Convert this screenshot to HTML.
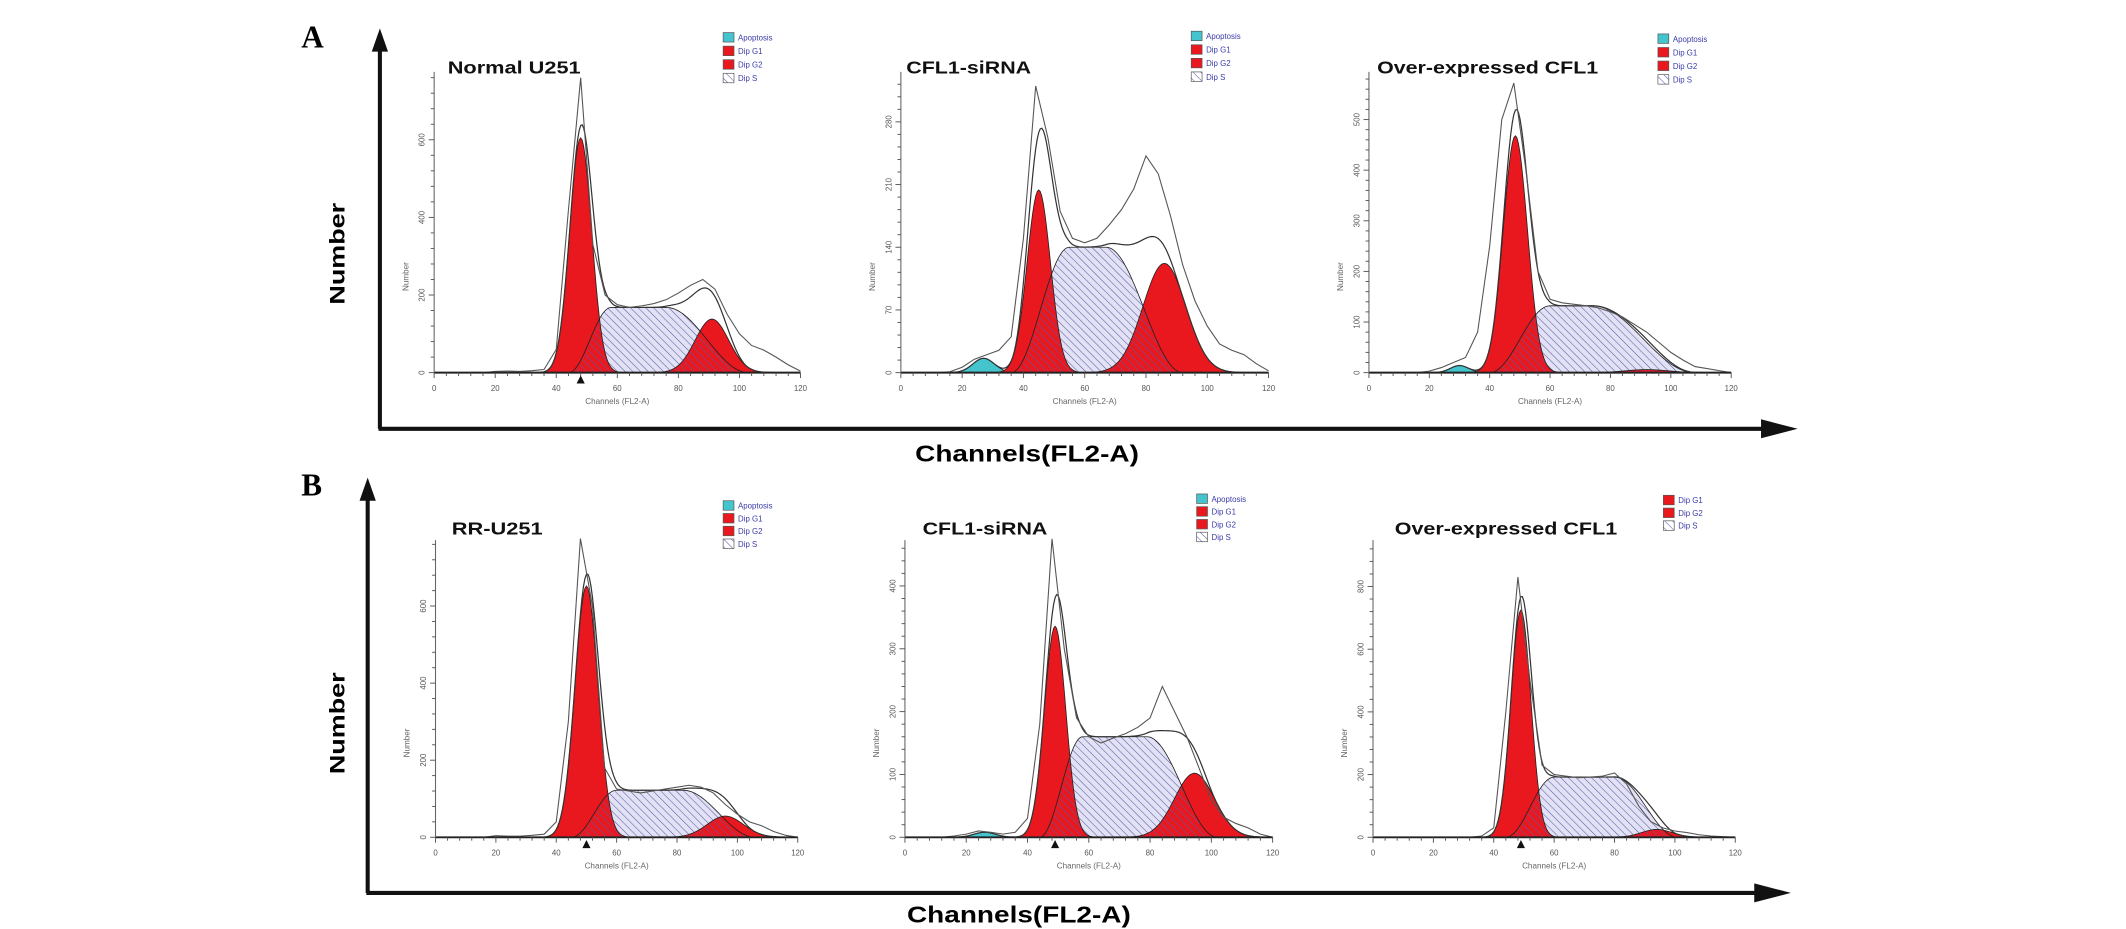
<!DOCTYPE html>
<html><head><meta charset="utf-8"><style>
html,body{margin:0;padding:0;background:#fff;}
svg{display:block;}
</style></head><body>
<svg id="fig" xmlns="http://www.w3.org/2000/svg" width="2126" height="929" viewBox="0 0 1567 684.6" preserveAspectRatio="none" font-family="Liberation Sans, Arial, sans-serif">
<defs>
<pattern id="hatch" patternUnits="userSpaceOnUse" width="4" height="4" patternTransform="rotate(-45)">
<line x1="0" y1="0" x2="0" y2="4" stroke="#5a5aaa" stroke-width="0.8"/>
</pattern>
</defs>
<g>
<text x="222" y="35" font-family="Liberation Serif, serif" font-weight="bold" font-size="23">A</text>
<line x1="280" y1="316" x2="280" y2="34" stroke="#111" stroke-width="3"/>
<polygon points="280,21 274,38 286,38" fill="#111"/>
<line x1="279" y1="316" x2="1312" y2="316" stroke="#111" stroke-width="3"/>
<polygon points="1325,316 1298,309 1298,323" fill="#111"/>
<text transform="translate(254,187) rotate(-90)" text-anchor="middle" font-weight="bold" font-size="16" textLength="75" lengthAdjust="spacingAndGlyphs">Number</text>
<text x="757" y="340" text-anchor="middle" font-weight="bold" font-size="17" textLength="165" lengthAdjust="spacingAndGlyphs">Channels(FL2-A)</text>
</g>
<g>
<text x="222" y="365" font-family="Liberation Serif, serif" font-weight="bold" font-size="23">B</text>
<line x1="271" y1="658" x2="271" y2="365" stroke="#111" stroke-width="3"/>
<polygon points="271,352 265,369 277,369" fill="#111"/>
<line x1="270" y1="658" x2="1307" y2="658" stroke="#111" stroke-width="3"/>
<polygon points="1320,658 1293,651 1293,665" fill="#111"/>
<text transform="translate(254,533) rotate(-90)" text-anchor="middle" font-weight="bold" font-size="16" textLength="75" lengthAdjust="spacingAndGlyphs">Number</text>
<text x="751" y="680" text-anchor="middle" font-weight="bold" font-size="17" textLength="165" lengthAdjust="spacingAndGlyphs">Channels(FL2-A)</text>
</g>
<g id="charts"></g>
</svg>
<script>
// ---- data (one entry per histogram: A1, A2, A3, B1, B2, B3) ----
const chartTitles = ["Normal U251", "CFL1-siRNA", "Over-expressed CFL1", "RR-U251", "CFL1-siRNA", "Over-expressed CFL1"];
const legendEntries = [
  ["Apoptosis", "Dip G1", "Dip G2", "Dip S"],
  ["Apoptosis", "Dip G1", "Dip G2", "Dip S"],
  ["Apoptosis", "Dip G1", "Dip G2", "Dip S"],
  ["Apoptosis", "Dip G1", "Dip G2", "Dip S"],
  ["Apoptosis", "Dip G1", "Dip G2", "Dip S"],
  ["Dip G1", "Dip G2", "Dip S"]
];
const xTickLabels = [0, 20, 40, 60, 80, 100, 120];
const yTickLabels = [[0, 200, 400, 600], [0, 70, 140, 210, 280], [0, 100, 200, 300, 400, 500], [0, 200, 400, 600], [0, 100, 200, 300, 400], [0, 200, 400, 600, 800]];
const yMinorStep = [40, 14, 20, 40, 20, 40];
const apoCenter = [null, 27, 30, null, 26, null];
const apoHeight = [0, 16, 14, 0, 8, 0];
const apoSigma = [1, 3.5, 3, 1, 3.5, 1];
const g1Center = [48, 45, 48.5, 50, 49, 49];
const g1Height = [605, 204, 468, 652, 336, 725];
const g1Sigma = [3.6, 3.8, 4.0, 3.8, 3.5, 3.3];
const g2Center = [91, 86, 92, 96, 94.5, 94];
const g2Height = [138, 122, 6, 55, 102, 25];
const g2Sigma = [5.5, 7.0, 7.0, 6.0, 6.5, 5.0];
const sStart = [44, 36, 40, 45, 44, 44];
const sPlateauStart = [58, 55, 60, 60, 58, 60];
const sPlateauEnd = [76, 67, 74, 82, 79, 80];
const sEnd = [103, 92, 108, 106, 102, 101];
const sHeight = [168, 140, 132, 122, 160, 192];
const rawChannels = [0,4,8,12,16,20,24,28,32,36,40,44,48,52,56,60,64,68,72,76,80,84,88,92,96,100,104,108,112,116,120];
const rawA1 = [0,0,0,0,0,3,4,3,5,8,60,420,760,330,200,175,168,172,178,188,205,225,240,215,150,100,70,58,40,20,4];
const rawA2 = [0,0,0,0,1,6,15,20,25,40,150,320,262,180,150,145,150,165,182,205,242,222,175,120,80,52,32,25,20,10,2];
const rawA3 = [0,0,0,0,0,3,10,20,30,80,250,500,572,400,200,145,138,135,132,128,120,110,95,80,60,40,25,12,8,4,0];
const rawB1 = [0,0,0,0,0,4,3,3,5,8,40,300,775,600,180,125,120,115,120,125,130,135,130,115,85,60,40,30,15,5,0];
const rawB2 = [0,0,0,0,2,5,10,8,5,8,30,180,475,300,190,160,150,158,165,175,190,240,200,160,110,60,32,22,15,5,0];
const rawB3 = [0,0,0,0,0,0,0,0,0,4,30,400,830,500,230,200,195,190,192,195,205,170,100,50,30,20,15,8,4,2,0];
const rawSeries = [rawA1, rawA2, rawA3, rawB1, rawB2, rawB3];
const g1Markers = [true, false, false, true, true, true];

// ---- layout (display coords) ----
const layout = [
  {x0:320, x1:590, base:274.6, top:53, pxPerUnit:57.2/200, tx:330, ty:54, tw:98, lx:533, ly:24, lstep:10},
  {x0:664, x1:935, base:274.6, top:53, pxPerUnit:46.2/70, tx:668, ty:54, tw:92, lx:878, ly:23, lstep:10},
  {x0:1009, x1:1276, base:274.6, top:53, pxPerUnit:37.3/100, tx:1015, ty:54, tw:163, lx:1222, ly:25, lstep:10},
  {x0:321, x1:588, base:617, top:398, pxPerUnit:56.8/200, tx:333, ty:394, tw:67, lx:533, ly:369, lstep:9.4},
  {x0:667, x1:938, base:617, top:398, pxPerUnit:46.3/100, tx:680, ty:394, tw:92, lx:882, ly:364, lstep:9.4},
  {x0:1012, x1:1279, base:617, top:398, pxPerUnit:46.2/200, tx:1028, ty:394, tw:164, lx:1226, ly:365, lstep:9.4}
];
const NS = "http://www.w3.org/2000/svg";
const root = document.getElementById("charts");
function mk(tag, attrs, parent){ const e=document.createElementNS(NS,tag); for(const k in attrs) e.setAttribute(k,attrs[k]); if(parent) parent.appendChild(e); return e; }
function gauss(x,c,h,s){ if(c===null) return 0; return h*Math.exp(-0.5*((x-c)/s)*((x-c)/s)); }
function sPhase(i,x){
  const a=sStart[i], b=sPlateauStart[i], c=sPlateauEnd[i], d=sEnd[i], h=sHeight[i];
  if(x<=a||x>=d) return 0;
  if(x<b) return h*(0.5-0.5*Math.cos(Math.PI*(x-a)/(b-a)));
  if(x<=c) return h;
  return h*(0.5+0.5*Math.cos(Math.PI*(x-c)/(d-c)));
}
const legendColors = {"Apoptosis":"#44c4cc","Dip G1":"#e8181e","Dip G2":"#e8181e","Dip S":"url(#hatch)"};

for(let i=0;i<6;i++){
  const L = layout[i];
  const g = mk("g",{},root);
  
  
  const X = ch => L.x0 + (ch/120)*(L.x1-L.x0);
  const Y = v => L.base - v*L.pxPerUnit;
  const chans=[]; for(let c=0;c<=120;c+=0.5) chans.push(c);
  function areaPath(fn){
    let d="M"+X(0)+","+L.base;
    chans.forEach(c=>{ d+=" L"+X(c).toFixed(2)+","+Y(fn(c)).toFixed(2); });
    d+=" L"+X(120)+","+L.base+" Z"; return d;
  }
  function linePath(fn){
    let d=""; chans.forEach((c,k)=>{ d+=(k?" L":"M")+X(c).toFixed(2)+","+Y(fn(c)).toFixed(2); }); return d;
  }
  const fS = c=>sPhase(i,c);
  const fG1 = c=>gauss(c,g1Center[i],g1Height[i],g1Sigma[i]);
  const fG2 = c=>gauss(c,g2Center[i],g2Height[i],g2Sigma[i]);
  const fApo = c=>gauss(c,apoCenter[i],apoHeight[i],apoSigma[i]);
  let p = mk("path",{d:areaPath(fS),fill:"#e2e2f4",stroke:"none"},g);
  
  
  if(apoCenter[i]!==null){
    p = mk("path",{d:areaPath(fApo),fill:"#44c4cc",stroke:"#222","stroke-width":0.6},g);
    
    
  }
  p = mk("path",{d:areaPath(fG1),fill:"#e8181e",stroke:"none"},g);
  
  
  p = mk("path",{d:areaPath(fG2),fill:"#e8181e",stroke:"none"},g);
  
  
  p = mk("path",{d:areaPath(fS),fill:"url(#hatch)",stroke:"#222","stroke-width":0.6},g);
  
  
  p = mk("path",{d:linePath(fG1),fill:"none",stroke:"#222","stroke-width":0.6},g);
  
  
  p = mk("path",{d:linePath(fG2),fill:"none",stroke:"#222","stroke-width":0.6},g);
  
  
  p = mk("path",{d:linePath(c=>fS(c)+fG1(c)+fG2(c)+fApo(c)),fill:"none",stroke:"#333","stroke-width":0.9},g);
  
  
  const raw = rawSeries[i];
  let d=""; rawChannels.forEach((c,k)=>{ d+=(k?" L":"M")+X(c).toFixed(2)+","+Y(raw[k]).toFixed(2); });
  p = mk("path",{d:d,fill:"none",stroke:"#555","stroke-width":0.8},g);
  
  
  const ax = mk("line",{x1:L.x0,y1:L.base,x2:L.x1,y2:L.base,stroke:"#222","stroke-width":1.4},g);
  
  
  const ay = mk("line",{x1:L.x0,y1:L.base,x2:L.x0,y2:L.top,stroke:"#666","stroke-width":0.8},g);
  
  
  for(let c=0;c<=120;c+=4){
    const major = c%20===0;
    mk("line",{x1:X(c),y1:L.base,x2:X(c),y2:L.base+(major?4:2.5),stroke:"#555","stroke-width":0.7},g);
  }
  xTickLabels.forEach(v=>{
    const t = mk("text",{x:X(v),y:L.base+13.5,"text-anchor":"middle","font-size":5.8,fill:"#555"},g);
    t.textContent = v;
    
    
  });
  const xl = mk("text",{x:(L.x0+L.x1)/2,y:L.base+23,"text-anchor":"middle","font-size":6,fill:"#666"},g);
  xl.textContent = "Channels (FL2-A)";
  
  
  const vmax = (L.base-L.top)/L.pxPerUnit;
  for(let v=0; v<=vmax; v+=yMinorStep[i]){
    const major = yTickLabels[i].indexOf(v)>=0;
    mk("line",{x1:L.x0-(major?4:2.5),y1:Y(v),x2:L.x0,y2:Y(v),stroke:"#555","stroke-width":0.7},g);
  }
  yTickLabels[i].forEach(v=>{
    const t = mk("text",{transform:"translate("+(L.x0-7)+","+Y(v)+") rotate(-90)","text-anchor":"middle","font-size":5.8,fill:"#555"},g);
    t.textContent = v;
    
    
  });
  const yl = mk("text",{transform:"translate("+(L.x0-19)+","+((L.base+L.top)/2+40)+") rotate(-90)","text-anchor":"middle","font-size":6,fill:"#666"},g);
  yl.textContent = "Number";
  
  
  if(g1Markers[i]){
    const xm = X(g1Center[i]);
    const m = mk("polygon",{points:(xm-3)+","+(L.base+8)+" "+(xm+3)+","+(L.base+8)+" "+xm+","+(L.base+2),fill:"#111"},g);
    
    
  }
  const tt = mk("text",{x:L.tx,y:L.ty,"font-weight":"bold","font-size":13,textLength:L.tw,lengthAdjust:"spacingAndGlyphs",fill:"#111"},g);
  tt.textContent = chartTitles[i];
  
  
  const lg = mk("g",{},g);
  
  
  legendEntries[i].forEach((name,k)=>{
    const y = L.ly + k*L.lstep;
    const r = mk("rect",{x:L.lx,y:y,width:8,height:7,fill:legendColors[name],stroke:"#555","stroke-width":0.5},lg);
    
    
    const t = mk("text",{x:L.lx+11,y:y+5.8,"font-size":5.8,fill:"#3a3aa8"},lg);
    t.textContent = name;
    
    
  });
}
</script>
</body></html>
